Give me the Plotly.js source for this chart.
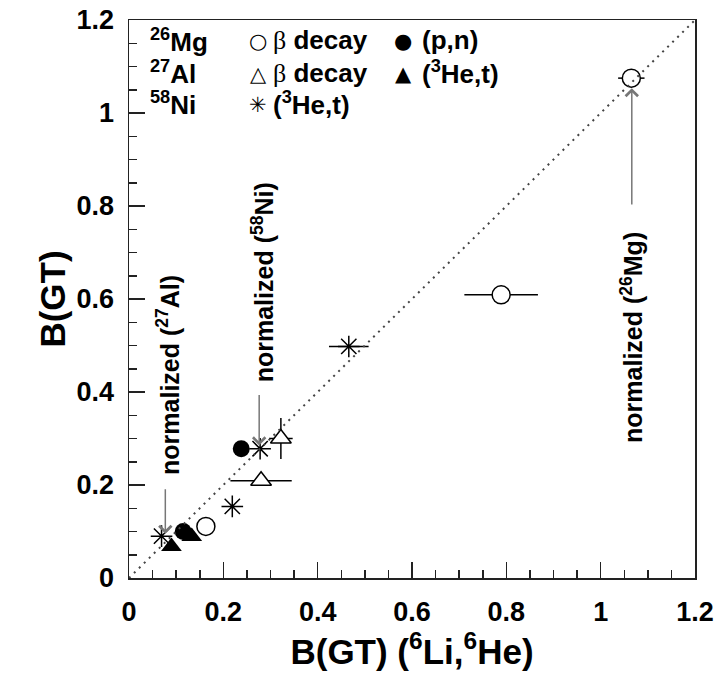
<!DOCTYPE html>
<html>
<head>
<meta charset="utf-8">
<script src="https://cdn.plot.ly/plotly-3.0.1.min.js"></script>
<style>html,body{margin:0;padding:0;background:#fff;}#chart{width:715px;height:691px;}</style>
</head>
<body>
<div id="chart"></div>
<script>
// ---- data ----
const mgBetaX    = [1.065, 0.789, 0.163];
const mgBetaY    = [1.075, 0.609, 0.111];
const mgBetaXErr = [0.028, 0.078, 0];

const mgPnX = [0.238, 0.115];
const mgPnY = [0.278, 0.100];

const alBetaX    = [0.322, 0.280];
const alBetaY    = [0.300, 0.209];
const alBetaXErr = [0.025, 0.065];
const alBetaYErr = [0.044, 0];

const al3HeX = [0.090, 0.133];
const al3HeY = [0.068, 0.089];

const ni3HeX    = [0.069, 0.219, 0.278, 0.466];
const ni3HeY    = [0.090, 0.154, 0.278, 0.498];
const ni3HeXErr = [0, 0, 0, 0.042];

const diagX = [0, 1.2];
const diagY = [0, 1.2];

const tickVals = [0, 0.2, 0.4, 0.6, 0.8, 1, 1.2];
const tickText = ['0', '0.2', '0.4', '0.6', '0.8', '1', '1.2'];

// normalization labels: text, text centre (x,y), arrow head (x,y), arrow tail y
const normText  = ['normalized (<sup>26</sup>Mg)', 'normalized (<sup>58</sup>Ni)', 'normalized (<sup>27</sup>Al)'];
const normTextX = [1.066, 0.283, 0.083];
const normTextY = [0.518, 0.637, 0.437];
const normHeadX = [1.066, 0.276, 0.077];
const normHeadY = [1.075, 0.285, 0.095];
const normTailY = [0.800, 0.397, 0.194];
const normStand = [10, 0, 0];

// legend
const legRows   = ['<sup>26</sup>Mg', '<sup>27</sup>Al', '<sup>58</sup>Ni'];
const legSym1   = ['○', '△', '✳'];
const legText1  = ['β decay', 'β decay', '(<sup>3</sup>He,t)'];
const legSym2   = ['●', '▲', ''];
const legText2  = ['(p,n)', '(<sup>3</sup>He,t)', ''];

const FONT = 'Liberation Sans, Arial, Helvetica, sans-serif';
const ERR = {color: '#000', thickness: 1.5, width: 0};

const traces = [
  {x: mgBetaX, y: mgBetaY, mode: 'markers', type: 'scatter',
   error_x: Object.assign({type: 'data', array: mgBetaXErr, visible: true}, ERR),
   marker: {symbol: 'circle', size: 18, color: '#fff', line: {color: '#000', width: 1.5}}},
  {x: mgPnX, y: mgPnY, mode: 'markers', type: 'scatter',
   marker: {symbol: 'circle', size: 17, color: '#000', line: {color: '#000', width: 0}}},
  {x: alBetaX, y: alBetaY, mode: 'markers', type: 'scatter',
   error_x: Object.assign({type: 'data', array: alBetaXErr, visible: true}, ERR),
   error_y: Object.assign({type: 'data', array: alBetaYErr, visible: true}, ERR),
   marker: {symbol: 'triangle-up', size: 18, color: '#fff', line: {color: '#000', width: 1.5}}},
  {x: al3HeX, y: al3HeY, mode: 'markers', type: 'scatter',
   marker: {symbol: 'triangle-up', size: 18, color: '#000', line: {color: '#000', width: 0}}},
  {x: ni3HeX, y: ni3HeY, mode: 'markers', type: 'scatter',
   error_x: Object.assign({type: 'data', array: ni3HeXErr, visible: true}, ERR),
   marker: {symbol: 'asterisk-open', size: 18, color: '#000', line: {color: '#000', width: 1.5}}},
  {x: diagX, y: diagY, mode: 'lines', type: 'scatter', hoverinfo: 'skip',
   line: {color: '#444', width: 2, dash: '2px,5px'}}
];

const annotations = [];
for (let i = 0; i < normText.length; i++) {
  annotations.push({
    x: normTextX[i], y: normTextY[i], xref: 'x', yref: 'y', text: normText[i],
    textangle: -90, showarrow: false, xanchor: 'center', yanchor: 'middle',
    font: {family: FONT, size: 25, color: '#000', weight: 700}
  });
  annotations.push({
    x: normHeadX[i], y: normHeadY[i], xref: 'x', yref: 'y', text: '',
    showarrow: true, axref: 'x', ayref: 'y', ax: normHeadX[i], ay: normTailY[i],
    arrowhead: 4, arrowsize: 1.6, arrowwidth: 1.5, arrowcolor: '#777', standoff: normStand[i]
  });
}
// legend (paper coords; plot area pixels -> paper)
const plotL = 129, plotW = 566, plotT = 20, plotH = 558;
const px = p => (p - plotL) / plotW;
const py = p => (plotT + plotH - p) / plotH;
const rowY = [40, 73, 104];
for (let r = 0; r < 3; r++) {
  annotations.push({xref: 'paper', yref: 'paper', x: px(148), y: py(rowY[r]), text: legRows[r],
    showarrow: false, xanchor: 'left', yanchor: 'middle', font: {family: FONT, size: 26, color: '#000', weight: 700}});
  annotations.push({xref: 'paper', yref: 'paper', x: px(258), y: py(rowY[r] + 1), text: legSym1[r],
    showarrow: false, xanchor: 'center', yanchor: 'middle', font: {family: 'DejaVu Sans', size: 21, color: '#000'}});
  annotations.push({xref: 'paper', yref: 'paper', x: px(271), y: py(rowY[r]), text: legText1[r].replace('β', '<span style="font-family:\'Liberation Serif\';font-weight:400">β</span>'),
    showarrow: false, xanchor: 'left', yanchor: 'middle', font: {family: FONT, size: 26, color: '#000', weight: 700}});
  if (legSym2[r]) {
    annotations.push({xref: 'paper', yref: 'paper', x: px(403), y: py(rowY[r] + 1), text: legSym2[r],
      showarrow: false, xanchor: 'center', yanchor: 'middle', font: {family: 'DejaVu Sans', size: 21, color: '#000'}});
    annotations.push({xref: 'paper', yref: 'paper', x: px(420), y: py(rowY[r]), text: legText2[r],
      showarrow: false, xanchor: 'left', yanchor: 'middle', font: {family: FONT, size: 26, color: '#000', weight: 700}});
  }
}

const axisCommon = {
  range: [0, 1.2], tickmode: 'array', tickvals: tickVals, ticktext: tickText,
  ticks: 'inside', ticklen: 16, tickwidth: 1.5, tickcolor: '#222',
  minor: {dtick: 0.05, tick0: 0, ticks: 'inside', ticklen: 8, tickwidth: 1.5, tickcolor: '#222', showgrid: false},
  showline: true, linecolor: '#222', linewidth: 1.5, mirror: true,
  showgrid: false, zeroline: false, fixedrange: true,
  tickfont: {family: FONT, size: 27, color: '#000', weight: 700}
};

const layout = {
  width: 715, height: 691,
  margin: {l: plotL, r: 715 - plotL - plotW, t: plotT, b: 691 - plotT - plotH},
  paper_bgcolor: '#fff', plot_bgcolor: '#fff',
  showlegend: false,
  xaxis: Object.assign({}, axisCommon, {
    ticklabelstandoff: 9,
    title: {text: 'B(GT) (<sup>6</sup>Li,<sup>6</sup>He)', standoff: 10,
            font: {family: FONT, size: 35, color: '#000', weight: 700}}
  }),
  yaxis: Object.assign({}, axisCommon, {
    ticklabelstandoff: 8,
    title: {text: 'B(GT)', standoff: 0,
            font: {family: FONT, size: 35, color: '#000', weight: 700}}
  }),
  annotations: annotations
};

Plotly.newPlot('chart', traces, layout, {displayModeBar: false, staticPlot: true});
</script>
</body>
</html>
